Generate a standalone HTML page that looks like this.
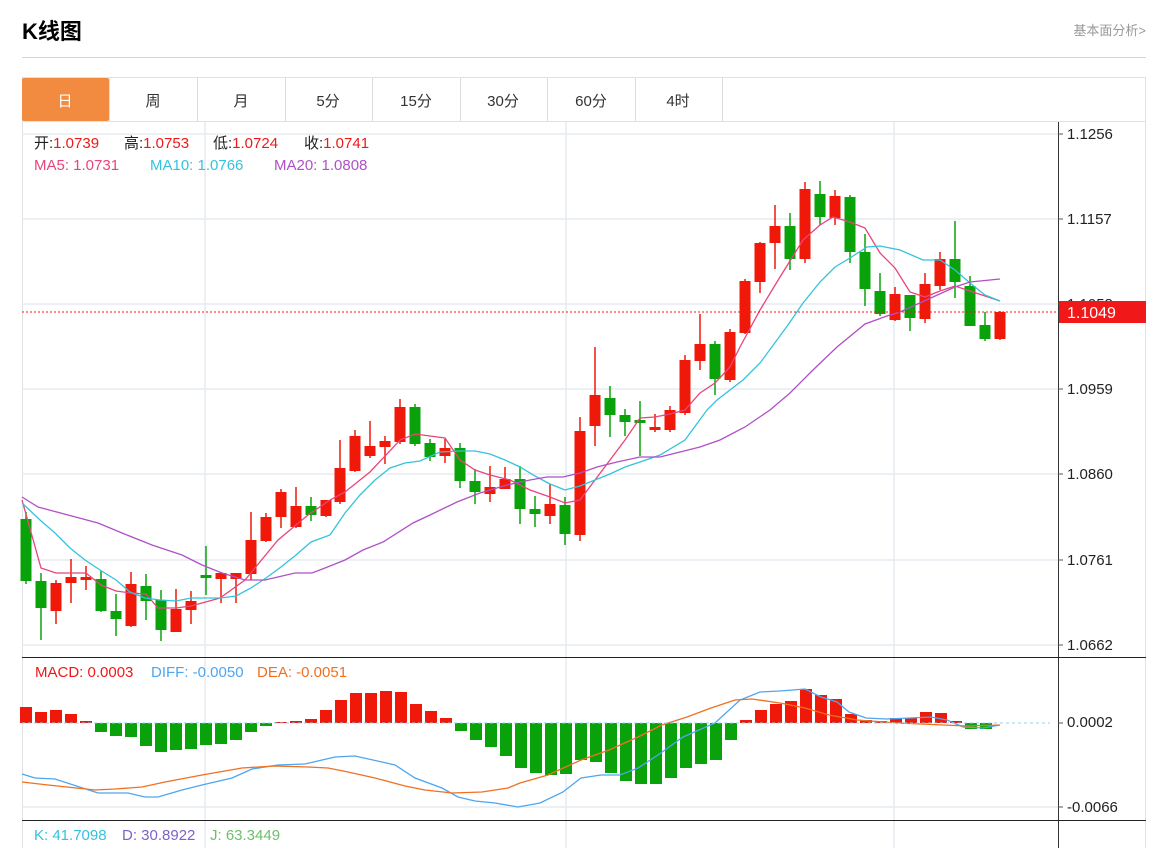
<!DOCTYPE html>
<html><head><meta charset="utf-8"><style>
html,body{margin:0;padding:0;background:#fff;width:1156px;height:848px;overflow:hidden;font-family:"Liberation Sans","Noto Sans CJK SC",sans-serif;}
</style></head><body>
<svg id="s" width="1156" height="848" xmlns="http://www.w3.org/2000/svg" style="position:absolute;left:0;top:0;font-family:'Liberation Sans','Noto Sans CJK SC',sans-serif">
<text x="22" y="39" font-size="22" font-weight="bold" fill="#000">K线图</text>
<text x="1146" y="35" font-size="13" fill="#999" text-anchor="end">基本面分析&gt;</text>
<line x1="22" y1="57.5" x2="1146" y2="57.5" stroke="#d5d5d5"/>
<rect x="22.5" y="77.5" width="1123" height="780" fill="none" stroke="#e2e2e2"/>
<line x1="22" y1="121.5" x2="1146" y2="121.5" stroke="#e2e2e2"/>
<rect x="22" y="78" width="87" height="43" rx="2" fill="#f28b40"/>
<g font-size="15" text-anchor="middle" fill="#333">
<text x="65" y="106" fill="#fff">日</text>
<text x="153" y="106">周</text><text x="241" y="106">月</text><text x="328" y="106">5分</text>
<text x="416" y="106">15分</text><text x="503" y="106">30分</text><text x="591" y="106">60分</text><text x="678" y="106">4时</text>
</g>
<g stroke="#dcdcdc"><line x1="109.5" y1="78" x2="109.5" y2="121"/><line x1="197.5" y1="78" x2="197.5" y2="121"/><line x1="285.5" y1="78" x2="285.5" y2="121"/><line x1="372.5" y1="78" x2="372.5" y2="121"/><line x1="460.5" y1="78" x2="460.5" y2="121"/><line x1="547.5" y1="78" x2="547.5" y2="121"/><line x1="635.5" y1="78" x2="635.5" y2="121"/><line x1="722.5" y1="78" x2="722.5" y2="121"/></g>
<g stroke="#e6ecf2" stroke-width="1.5">
<line x1="205" y1="122" x2="205" y2="848"/><line x1="566" y1="122" x2="566" y2="848"/><line x1="894" y1="122" x2="894" y2="848"/>
<line x1="22" y1="134" x2="1058" y2="134"/><line x1="22" y1="219" x2="1058" y2="219"/><line x1="22" y1="304" x2="1058" y2="304"/><line x1="22" y1="389" x2="1058" y2="389"/><line x1="22" y1="474" x2="1058" y2="474"/><line x1="22" y1="560" x2="1058" y2="560"/><line x1="22" y1="645" x2="1058" y2="645"/>
<line x1="22" y1="807" x2="1058" y2="807"/>
</g>
<line x1="1058.5" y1="122" x2="1058.5" y2="848" stroke="#333"/>
<line x1="22" y1="657.5" x2="1146" y2="657.5" stroke="#222"/>
<line x1="22" y1="820.5" x2="1146" y2="820.5" stroke="#222"/>
<g font-size="15" fill="#222">
<text x="1067" y="139">1.1256</text><text x="1067" y="224">1.1157</text><text x="1067" y="309">1.1058</text><text x="1067" y="394">1.0959</text><text x="1067" y="479">1.0860</text><text x="1067" y="565">1.0761</text><text x="1067" y="650">1.0662</text>
<text x="1067" y="727">0.0002</text><text x="1067" y="812">-0.0066</text>
</g>
<g stroke="#555"><line x1="1058" y1="134" x2="1063" y2="134"/><line x1="1058" y1="219" x2="1063" y2="219"/><line x1="1058" y1="304" x2="1063" y2="304"/><line x1="1058" y1="389" x2="1063" y2="389"/><line x1="1058" y1="474" x2="1063" y2="474"/><line x1="1058" y1="560" x2="1063" y2="560"/><line x1="1058" y1="645" x2="1063" y2="645"/><line x1="1058" y1="723" x2="1063" y2="723"/><line x1="1058" y1="807" x2="1063" y2="807"/></g>
<g id="c"></g>
<line x1="22" y1="312" x2="1058" y2="312" stroke="#f01818" stroke-dasharray="2,2"/>
<rect x="1059" y="301" width="87" height="22" fill="#f01818"/>
<text x="1067" y="318" font-size="16" fill="#fff">1.1049</text>
<line x1="22" y1="723" x2="1050" y2="723" stroke="#8fd3f0" stroke-dasharray="3,3"/>
<g font-size="15">
<text x="34" y="148" fill="#222">开:<tspan fill="#f01818">1.0739</tspan></text>
<text x="124" y="148" fill="#222">高:<tspan fill="#f01818">1.0753</tspan></text>
<text x="213" y="148" fill="#222">低:<tspan fill="#f01818">1.0724</tspan></text>
<text x="304" y="148" fill="#222">收:<tspan fill="#f01818">1.0741</tspan></text>
<text x="34" y="170" fill="#e8457a">MA5: 1.0731</text>
<text x="150" y="170" fill="#33c3dc">MA10: 1.0766</text>
<text x="274" y="170" fill="#b050c8">MA20: 1.0808</text>
<text x="35" y="677" fill="#f01818">MACD: 0.0003</text>
<text x="151" y="677" fill="#4da6ef">DIFF: -0.0050</text>
<text x="257" y="677" fill="#f07020">DEA: -0.0051</text>
<text x="34" y="840" fill="#33c3dc">K: 41.7098</text>
<text x="122" y="840" fill="#8060c8">D: 30.8922</text>
<text x="210" y="840" fill="#6cbf6c">J: 63.3449</text>
</g>
</svg>
<script>
var R="#f01808",G="#0aa20a",ns="http://www.w3.org/2000/svg",g=document.getElementById("c");
function el(t,a){var e=document.createElementNS(ns,t);for(var k in a)e.setAttribute(k,a[k]);g.appendChild(e);return e;}
var C=[[26,519,581,512,584,G],[41,581,608,573,640,G],[56,583,611,580,624,R],[71,577,583,559,603,R],[86,577,580,566,590,R],[101,579,611,571,612,G],[116,611,619,594,636,G],[131,584,626,572,627,R],[146,586,601,574,620,G],[161,600,630,590,641,G],[176,609,632,589,632,R],[191,601,610,591,624,R],[206,575,578,546,595,G],[221,573,579,573,603,R],[236,573,579,573,603,R],[251,540,574,512,580,R],[266,517,541,513,542,R],[281,492,517,489,528,R],[296,506,527,487,528,R],[311,506,515,497,521,G],[326,500,516,500,517,R],[340,468,502,440,504,R],[355,436,471,430,472,R],[370,446,456,421,458,R],[385,441,447,436,464,R],[400,407,442,399,444,R],[415,407,444,404,446,G],[430,443,457,439,461,G],[445,448,456,439,463,R],[460,448,481,443,488,G],[475,481,492,469,504,G],[490,487,494,466,502,R],[505,479,489,467,489,R],[520,479,509,466,524,G],[535,509,514,496,527,G],[550,504,516,484,524,R],[565,505,534,497,545,G],[580,431,535,417,541,R],[595,395,426,347,446,R],[610,398,415,386,437,G],[625,415,422,409,436,G],[640,420,423,401,456,G],[655,427,430,414,432,R],[670,410,430,406,432,R],[685,360,413,355,415,R],[700,344,361,314,370,R],[715,344,379,341,395,G],[730,332,380,329,382,R],[745,281,333,279,334,R],[760,243,282,242,293,R],[775,226,243,205,269,R],[790,226,259,213,270,G],[805,189,259,182,263,R],[820,194,217,181,225,G],[835,196,218,190,225,R],[850,197,252,195,263,G],[865,252,289,234,306,G],[880,291,314,273,316,G],[895,294,320,287,321,R],[910,295,318,295,331,G],[925,284,319,273,323,R],[940,259,286,252,290,R],[955,259,282,221,298,G],[970,286,326,276,326,G],[985,325,339,312,341,G],[1000,312,339,311,340,R]];
C.forEach(function(c){el("line",{x1:c[0],x2:c[0],y1:c[3],y2:c[4],stroke:c[5],"stroke-width":1.5});el("rect",{x:c[0]-5.5,y:c[1],width:11,height:Math.max(1.5,c[2]-c[1]),fill:c[5]});});
var M=[[26,707],[41,712],[56,710],[71,714],[86,721],[101,732],[116,736],[131,737],[146,746],[161,752],[176,750],[191,749],[206,745],[221,744],[236,740],[251,732],[266,726],[281,722],[296,721],[311,719],[326,710],[341,700],[356,693],[371,693],[386,691],[401,692],[416,704],[431,711],[446,718],[461,731],[476,740],[491,747],[506,756],[521,768],[536,773],[551,775],[566,774],[581,760],[596,762],[611,773],[626,781],[641,784],[656,784],[671,778],[686,768],[701,764],[716,760],[731,740],[746,720],[761,710],[776,704],[791,701],[806,689],[821,695],[836,699],[851,714],[866,720],[881,721],[896,718],[911,718],[926,712],[941,713],[956,721],[971,729],[986,729]];
M.forEach(function(m){var y0=723;el("rect",{x:m[0]-6,y:Math.min(m[1],y0),width:12,height:Math.max(1,Math.abs(m[1]-y0)),fill:m[1]<y0?R:G});});
function pl(p,c){el("polyline",{points:p,fill:"none",stroke:c,"stroke-width":1.3});}
pl("22,500 41,568 56,573 71,573 86,573 101,585 116,591 131,593 146,594 158,608 176,608 191,606 202,603 220,598 245,580 278,540 308,515 330,500 345,492 370,472 400,440 415,434 445,438 460,460 475,470 490,475 510,480 530,490 550,497 565,503 580,500 595,480 610,460 625,440 640,418 655,417 670,414 685,410 700,393 715,383 730,367 740,347 760,310 780,277 803,240 820,225 833,217 850,222 865,228 880,253 895,268 910,292 925,297 940,291 955,286 970,291 985,296 1000,301","#e8457a");
pl("22,503 40,520 55,533 70,548 85,560 100,570 116,580 130,592 145,598 160,600 176,601 191,598 221,598 236,596 251,588 266,578 281,567 296,555 311,542 330,535 345,513 360,495 375,480 390,468 405,463 420,461 440,452 460,451 475,451 490,454 505,460 520,467 535,476 550,484 565,490 580,486 595,480 610,474 625,467 640,462 660,455 685,440 707,410 717,400 743,380 760,363 788,325 803,303 820,282 835,267 850,258 867,247 880,246 900,250 923,260 940,260 955,270 970,283 985,295 1000,301","#33c3dc");
pl("22,497 38,507 68,515 98,523 122,533 152,545 182,555 202,565 222,573 245,580 265,580 295,573 312,573 325,568 345,560 363,550 383,542 413,523 430,515 457,502 480,493 507,485 530,480 547,477 563,477 580,473 597,467 617,462 640,457 660,457 680,452 700,447 720,440 745,427 770,410 790,393 813,370 837,347 865,324 887,316 900,312 933,297 955,287 970,282 1000,279","#b050c8");
pl("22,774 35,778 55,779 98,793 128,793 145,797 158,797 182,790 202,785 232,778 252,769 278,765 305,764 335,757 355,756 382,762 395,765 415,778 442,788 458,797 475,801 495,803 518,807 540,803 563,792 581,778 601,775 620,775 638,768 658,755 683,737 699,730 715,723 740,700 760,692 780,691 805,689 821,697 837,702 849,712 866,718 886,719 910,718 931,717 947,720 963,727 983,728 1000,725","#4da6ef");
pl("22,782 48,785 95,790 115,789 142,787 165,782 202,775 242,768 275,766 308,767 328,768 348,772 375,778 405,786 425,790 452,793 482,792 508,788 520,783 548,775 581,760 609,750 638,737 662,725 687,717 711,708 735,700 752,699 780,703 805,708 829,715 857,720 898,723 943,725 967,726 1000,725","#f07020");
</script>
</body></html>
